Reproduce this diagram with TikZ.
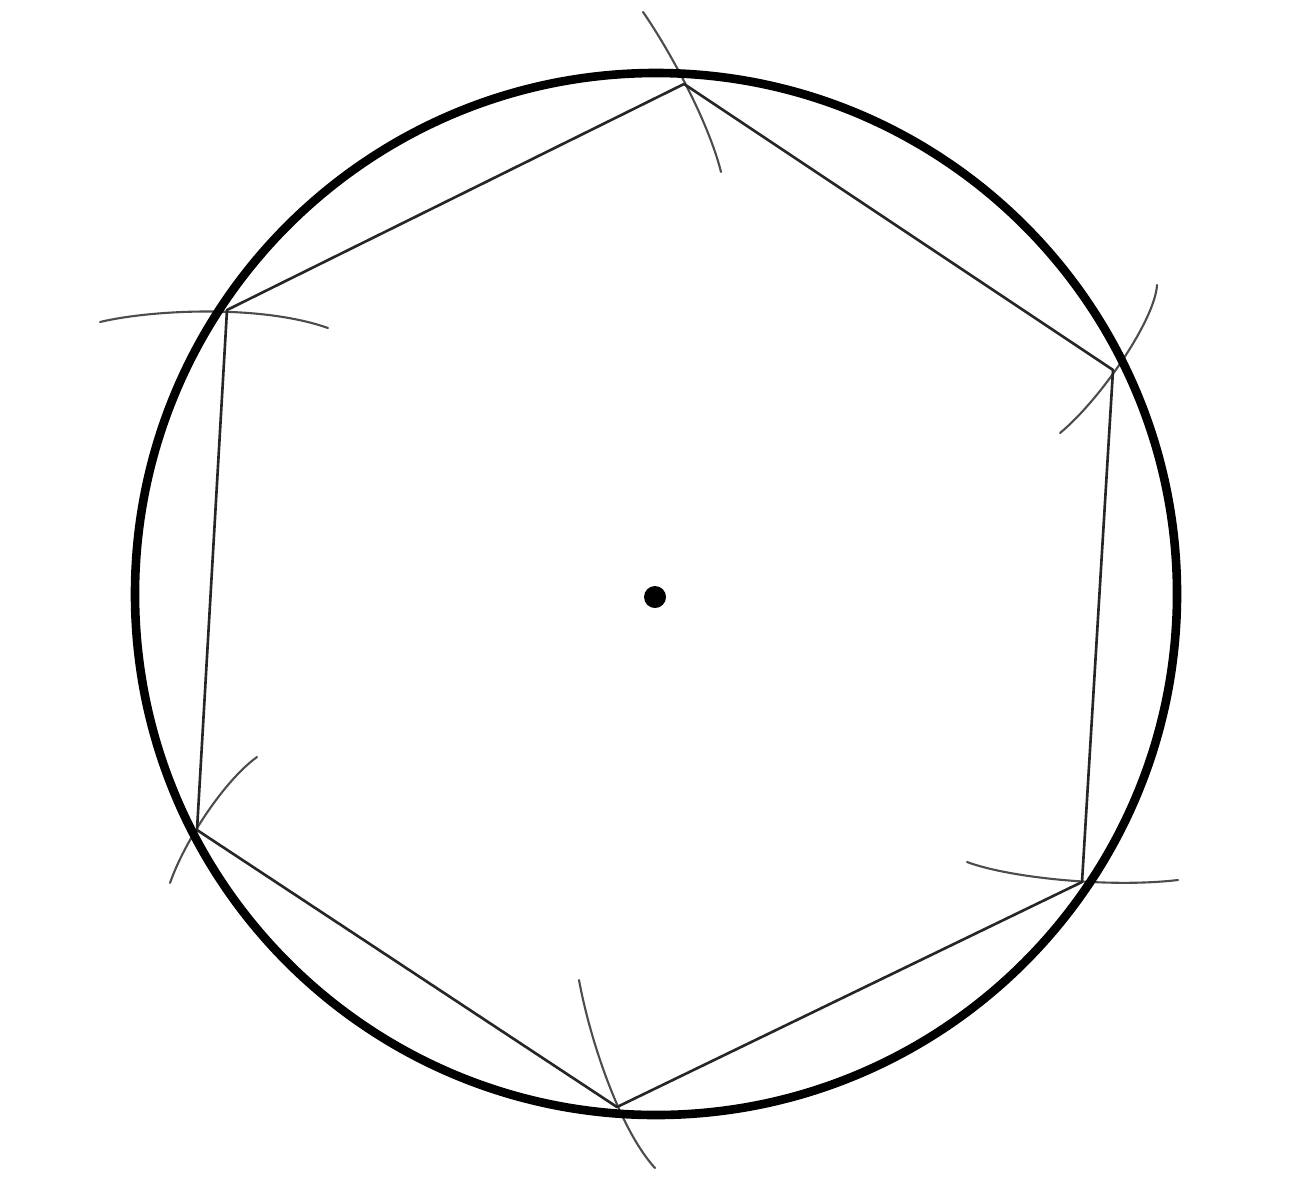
\documentclass[tikz,border=0pt]{standalone}
\begin{document}
\begin{tikzpicture}[x=0.02cm,y=-0.02cm,
  rim/.style={line width=4.9pt,black},
  side/.style={line width=1.5pt,black!85},
  markarc/.style={line width=1.2pt,black!70,line cap=round}]
\useasboundingbox (0,0) rectangle (1290,1200);
\coordinate (c) at (656,594);
\coordinate (v1) at (684,84);
\coordinate (v2) at (1113,370);
\coordinate (v3) at (1082,882);
\coordinate (v4) at (617,1107);
\coordinate (v5) at (197,830);
\coordinate (v6) at (227,310);
% construction arcs
\draw[markarc] (643,12) .. controls (668,48) and (708,120) .. (721,172);
\draw[markarc] (100,322) .. controls (150,310) and (260,304) .. (328,328);
\draw[markarc] (1157,285) .. controls (1155,320) and (1100,400) .. (1060,433);
\draw[markarc] (967,862) .. controls (1010,878) and (1110,888) .. (1178,880);
\draw[markarc] (579,980) .. controls (590,1040) and (620,1130) .. (655,1168);
\draw[markarc] (257,757) .. controls (225,780) and (185,840) .. (170,883);
% hexagon
\draw[side,line join=round] (v1) -- (v2) -- (v3) -- (v4) -- (v5) -- (v6) -- cycle;
% circle
\draw[rim] (c) circle[radius=521];
\fill (655,597) circle[radius=11];
\end{tikzpicture}
\end{document}
